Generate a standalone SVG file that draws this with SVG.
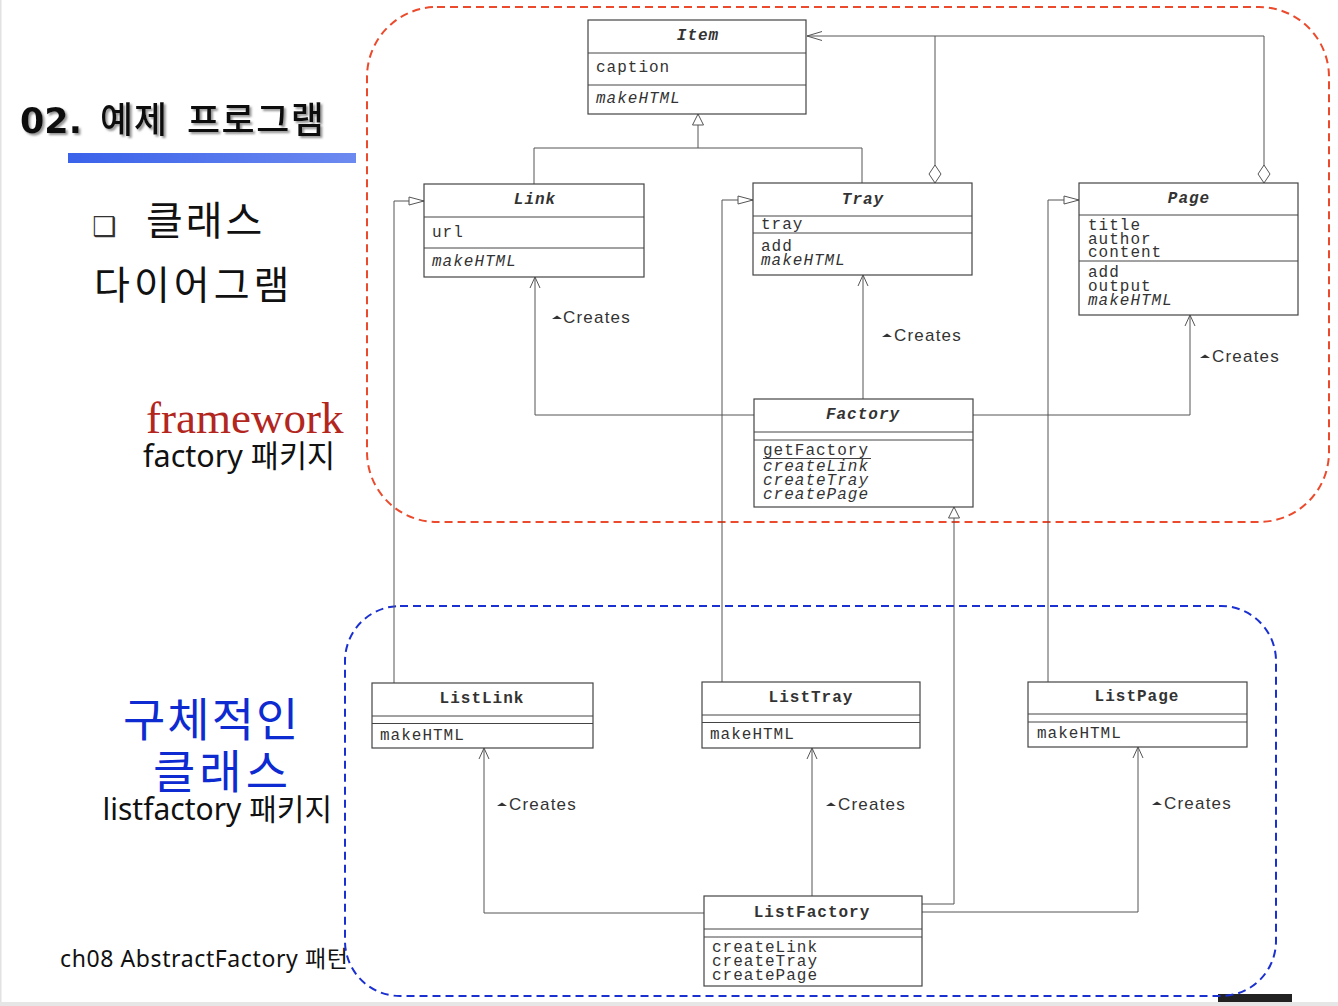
<svg xmlns="http://www.w3.org/2000/svg" width="1338" height="1006" viewBox="0 0 1338 1006">
<style>
.box{fill:#fff;stroke:#444;stroke-width:1.2}
.dv{stroke:#444;stroke-width:1;fill:none}
.t{font-family:"Liberation Mono","Courier New",monospace;font-size:16px;letter-spacing:1px;fill:#333}
.tb{font-weight:bold;text-anchor:middle}
.ti{font-style:italic}
.ln{fill:none;stroke:#555;stroke-width:1}
.cr{font-family:"Liberation Sans",Arial,sans-serif;font-size:17px;letter-spacing:1.2px;fill:#333}
.crt{fill:#333}
.kr{font-family:"Noto Sans","Noto Sans CJK KR",sans-serif}
.pkg{fill:none;stroke-width:2;stroke-dasharray:8 5}
</style>
<defs>
<linearGradient id="bar" x1="0" y1="0" x2="1" y2="0">
<stop offset="0" stop-color="#3a62ea"/>
<stop offset="1" stop-color="#6d8af0"/>
</linearGradient>
<filter id="sh" x="-5%" y="-20%" width="110%" height="140%">
<feDropShadow dx="2" dy="2" stdDeviation="0.8" flood-color="#777" flood-opacity="0.8"/>
</filter>
<marker id="open" markerWidth="1" markerHeight="1" orient="auto" markerUnits="userSpaceOnUse" style="overflow:visible">
<path d="M -11 -5 L 0 0 L -11 5" fill="none" stroke="#555" stroke-width="1"/>
</marker>
<marker id="nav" markerWidth="1" markerHeight="1" orient="auto" markerUnits="userSpaceOnUse" style="overflow:visible">
<path d="M -15 -4.5 L 0 0 L -15 4.5" fill="none" stroke="#555" stroke-width="1"/>
</marker>
<marker id="tri" markerWidth="1" markerHeight="1" orient="auto" markerUnits="userSpaceOnUse" style="overflow:visible">
<path d="M -11 -5.5 L 0 0 L -11 5.5 Z" fill="#fff" stroke="#555" stroke-width="1"/>
</marker>
<marker id="triN" markerWidth="1" markerHeight="1" orient="auto" markerUnits="userSpaceOnUse" style="overflow:visible">
<path d="M -15 -4 L 0 0 L -15 4 Z" fill="#fff" stroke="#555" stroke-width="1"/>
</marker>
<marker id="dia" markerWidth="1" markerHeight="1" orient="auto" markerUnits="userSpaceOnUse" style="overflow:visible">
<path d="M 0 0 L 9 -6 L 18 0 L 9 6 Z" fill="#fff" stroke="#555" stroke-width="1"/>
</marker>
</defs>

<rect x="0" y="0" width="1338" height="1006" fill="#fff"/>
<rect x="0" y="0" width="1.5" height="1006" fill="#e2e2e2"/>
<rect x="0" y="1002" width="1338" height="4" fill="#e6e6e6"/>
<rect x="1218" y="994" width="74" height="8" fill="#222"/>

<g id="slide-text">
<text x="20" y="133" font-size="36" fill="#111" filter="url(#sh)" class="kr"><tspan font-family="'DejaVu Sans',sans-serif" font-weight="bold" font-size="35">02.</tspan><tspan x="100" font-family="'Noto Sans CJK KR',sans-serif" font-weight="500" letter-spacing="1">예제</tspan><tspan x="187" font-family="'Noto Sans CJK KR',sans-serif" font-weight="500" letter-spacing="1.5">프로그램</tspan></text>
<rect x="68" y="153" width="288" height="10" fill="url(#bar)"/>
<text x="92" y="236" font-family="'DejaVu Sans',sans-serif" font-size="27" fill="#333">❑</text>
<text x="146" y="235" font-family="'Noto Sans CJK KR',sans-serif" font-size="40" letter-spacing="3" fill="#111">클래스</text>
<text x="94" y="299" font-family="'Noto Sans CJK KR',sans-serif" font-size="39" letter-spacing="4" fill="#111">다이어그램</text>
<text x="146" y="433" font-family="'Liberation Serif','Times New Roman',serif" font-size="45" fill="#b3261e">framework</text>
<text x="335" y="467" class="kr" font-size="30.5" text-anchor="end" fill="#111">factory 패키지</text>
<text x="123" y="736" font-family="'Noto Sans CJK KR',sans-serif" font-size="46" letter-spacing="2" fill="#0d2bd0">구체적인</text>
<text x="153" y="788" font-family="'Noto Sans CJK KR',sans-serif" font-size="46" letter-spacing="4" fill="#0d2bd0">클래스</text>
<text x="332" y="820" class="kr" font-size="30" text-anchor="end" fill="#111">listfactory 패키지</text>
<text x="60" y="967" class="kr" font-size="23" letter-spacing="0.6" fill="#111">ch08 AbstractFactory 패턴</text>
</g>

<g id="packages">
<rect id="pkg-framework" class="pkg" x="367" y="7" width="962" height="515" rx="70" ry="70" stroke="#ec4a2c"/>
<rect id="pkg-listfactory" class="pkg" x="345" y="606" width="931" height="390" rx="55" ry="55" stroke="#1a30d0"/>
</g>

<g id="connectors">
<path class="ln" d="M 534 184 L 534 148 L 862 148 L 862 183"/>
<path class="ln" d="M 698 148 L 698 114" marker-end="url(#tri)"/>
<path class="ln" d="M 1264 183 L 1264 36 L 807 36" marker-start="url(#dia)" marker-end="url(#nav)"/>
<path class="ln" d="M 935 183 L 935 36" marker-start="url(#dia)"/>
<path class="ln" d="M 754 415 L 535 415 L 535 277" marker-end="url(#open)"/>
<path class="ln" d="M 863 399 L 863 275" marker-end="url(#open)"/>
<path class="ln" d="M 973 415 L 1190 415 L 1190 315" marker-end="url(#open)"/>
<path class="ln" d="M 394 683 L 394 201 L 424 201" marker-end="url(#triN)"/>
<path class="ln" d="M 722 682 L 722 200 L 753 200" marker-end="url(#triN)"/>
<path class="ln" d="M 1048 682 L 1048 200 L 1079 200" marker-end="url(#triN)"/>
<path class="ln" d="M 922 904 L 954 904 L 954 507" marker-end="url(#tri)"/>
<path class="ln" d="M 704 913 L 484 913 L 484 748" marker-end="url(#open)"/>
<path class="ln" d="M 812 896 L 812 748" marker-end="url(#open)"/>
<path class="ln" d="M 922 912 L 1138 912 L 1138 747" marker-end="url(#open)"/>
<g id="creates-labels">
<path class="crt" d="M 552 319 L 557 315.5 L 562 319 Z"/><text class="cr" x="563" y="323">Creates</text>
<path class="crt" d="M 882 337 L 887 333.5 L 892 337 Z"/><text class="cr" x="894" y="341">Creates</text>
<path class="crt" d="M 1200 358 L 1205 354.5 L 1210 358 Z"/><text class="cr" x="1212" y="362">Creates</text>
<path class="crt" d="M 497 806 L 502 802.5 L 507 806 Z"/><text class="cr" x="509" y="810">Creates</text>
<path class="crt" d="M 826 806 L 831 802.5 L 836 806 Z"/><text class="cr" x="838" y="810">Creates</text>
<path class="crt" d="M 1152 805 L 1157 801.5 L 1162 805 Z"/><text class="cr" x="1164" y="809">Creates</text>
</g>
</g>

<g id="Item">
<rect class="box" x="588" y="20" width="218" height="94"/>
<path class="dv" d="M 588 53 H 806 M 588 85 H 806"/>
<text class="t tb ti" x="698" y="40">Item</text>
<text class="t" x="596" y="72">caption</text>
<text class="t ti" x="596" y="103">makeHTML</text>
</g>

<g id="Link">
<rect class="box" x="424" y="184" width="220" height="93"/>
<path class="dv" d="M 424 217 H 644 M 424 248 H 644"/>
<text class="t tb ti" x="535" y="204">Link</text>
<text class="t" x="432" y="237">url</text>
<text class="t ti" x="432" y="266">makeHTML</text>
</g>

<g id="Tray">
<rect class="box" x="753" y="183" width="219" height="92"/>
<path class="dv" d="M 753 216 H 972 M 753 233 H 972"/>
<text class="t tb ti" x="863" y="204">Tray</text>
<text class="t" x="761" y="229">tray</text>
<text class="t" x="761" y="251">add<tspan x="761" dy="14" font-style="italic">makeHTML</tspan></text>
</g>

<g id="Page">
<rect class="box" x="1079" y="183" width="219" height="132"/>
<path class="dv" d="M 1079 215 H 1298 M 1079 261 H 1298"/>
<text class="t tb ti" x="1189" y="203">Page</text>
<text class="t" x="1088" y="230">title<tspan x="1088" dy="13.5">author</tspan><tspan x="1088" dy="13.5">content</tspan></text>
<text class="t" x="1088" y="277">add<tspan x="1088" dy="14">output</tspan><tspan x="1088" dy="14" font-style="italic">makeHTML</tspan></text>
</g>

<g id="Factory">
<rect class="box" x="754" y="399" width="219" height="108"/>
<path class="dv" d="M 754 432 H 973 M 754 440 H 973"/>
<text class="t tb ti" x="863" y="419">Factory</text>
<text class="t" x="763" y="455">getFactory<tspan x="763" dy="16" font-style="italic">createLink</tspan><tspan x="763" dy="14" font-style="italic">createTray</tspan><tspan x="763" dy="14" font-style="italic">createPage</tspan></text>
<path class="dv" d="M 763 458.5 H 871"/>
</g>

<g id="ListLink">
<rect class="box" x="372" y="683" width="221" height="65"/>
<path class="dv" d="M 372 716 H 593 M 372 723.5 H 593"/>
<text class="t tb" x="482" y="703">ListLink</text>
<text class="t" x="380" y="740">makeHTML</text>
</g>

<g id="ListTray">
<rect class="box" x="702" y="682" width="218" height="66"/>
<path class="dv" d="M 702 715 H 920 M 702 722.5 H 920"/>
<text class="t tb" x="811" y="702">ListTray</text>
<text class="t" x="710" y="739">makeHTML</text>
</g>

<g id="ListPage">
<rect class="box" x="1028" y="682" width="219" height="65"/>
<path class="dv" d="M 1028 714 H 1247 M 1028 722 H 1247"/>
<text class="t tb" x="1137" y="701">ListPage</text>
<text class="t" x="1037" y="738">makeHTML</text>
</g>

<g id="ListFactory">
<rect class="box" x="704" y="896" width="218" height="90"/>
<path class="dv" d="M 704 929 H 922 M 704 937 H 922"/>
<text class="t tb" x="812" y="917">ListFactory</text>
<text class="t" x="712" y="952">createLink<tspan x="712" dy="14">createTray</tspan><tspan x="712" dy="14">createPage</tspan></text>
</g>
</svg>
